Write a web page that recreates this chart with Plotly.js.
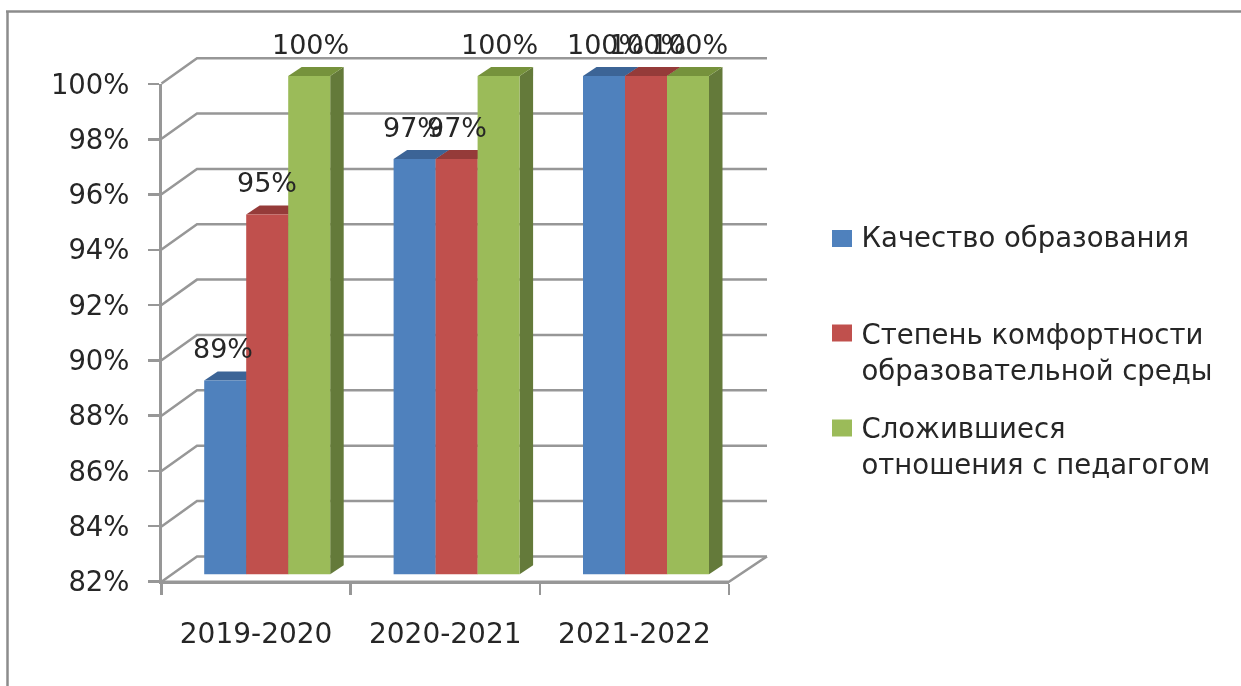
<!DOCTYPE html>
<html>
<head>
<meta charset="utf-8">
<script src="https://cdn.plot.ly/plotly-3.0.1.min.js"></script>
<style>
html,body{margin:0;padding:0;background:#fff;overflow:hidden}
#chart{width:1241px;height:686px;filter:blur(0.45px)}
</style>
</head>
<body>
<div id="chart"></div>
<script>
const categories = ["2019-2020", "2020-2021", "2021-2022"];
const yTicks = [82, 84, 86, 88, 90, 92, 94, 96, 98, 100];
const quality = [89, 97, 100];
const comfort = [95, 97, 100];
const relations = [100, 100, 100];
const seriesNames = [
  "Качество образования",
  "&nbsp;<br>Степень комфортности<br>образовательной среды",
  "&nbsp;<br>Сложившиеся<br>отношения с педагогом"
];
const seriesValues = [quality, comfort, relations];
const frontColors = ["#4F81BD", "#C0504D", "#9BBB59"];
const topColors = ["#3C6496", "#953B39", "#76923C"];
const sideColors = ["#375A87", "#7F2F2D", "#647A3A"];

const W = 1241, H = 686;
const GRAY = "#979797", TEXT = "#262626", FONT = "'DejaVu Sans', sans-serif";
const pxPerGroup = 189.4, pxPerUnit = 27.68;
const bw = 42 / pxPerGroup, dx = 13.5 / pxPerGroup, dy = 9 / pxPerUnit;
const base = 82;
const wallFront = -0.27, wallBack = 0.645;
const backX = (197 - 267.2) / pxPerGroup, frontX = (161.5 - 267.2) / pxPerGroup;
const endFrontX = (729 - 267.2) / pxPerGroup, endBackX = (767 - 267.2) / pxPerGroup;

const shapes = [];
// chart frame
[[6, 11.5, W, 11.5], [7.5, 11.5, 7.5, H]].forEach(p => shapes.push({
  type: "line", xref: "paper", yref: "paper", layer: "below",
  x0: p[0] / W, x1: p[2] / W, y0: 1 - p[1] / H, y1: 1 - p[3] / H,
  line: {color: "#8c8c8c", width: 2.5}
}));
// walls and gridlines
yTicks.forEach(v => {
  shapes.push({type: "path", xref: "x", yref: "y", layer: "below",
    path: `M${frontX},${v + wallFront}L${backX},${v + wallBack}L${endBackX},${v + wallBack}`,
    line: {color: GRAY, width: 2.5}});
});
shapes.push({type: "path", xref: "x", yref: "y", layer: "below",
  path: `M${frontX},${base + wallFront}L${endFrontX},${base + wallFront}L${endBackX},${base + wallBack}`,
  line: {color: GRAY, width: 2.5}});
// 3-D faces of the bars
seriesValues.forEach((vals, s) => {
  vals.forEach((v, g) => {
    const x0 = g + (s - 1.5) * bw, x1 = x0 + bw;
    shapes.push({type: "path", xref: "x", yref: "y", layer: "below",
      path: `M${x1},${base}L${x1 + dx},${base + dy}L${x1 + dx},${v + dy}L${x1},${v}Z`,
      fillcolor: sideColors[s], line: {width: 0}});
    shapes.push({type: "path", xref: "x", yref: "y", layer: "below",
      path: `M${x0},${v}L${x1},${v}L${x1 + dx},${v + dy}L${x0 + dx},${v + dy}Z`,
      fillcolor: topColors[s], line: {width: 0}});
  });
});
// legend swatches sized like the reference
[238.5, 333, 428].forEach((cy, s) => shapes.push({
  type: "rect", xref: "paper", yref: "paper", layer: "below",
  x0: 832 / W, x1: 852 / W, y0: 1 - (cy - 8.5) / H, y1: 1 - (cy + 8.5) / H,
  fillcolor: frontColors[s], line: {width: 0}
}));

const traces = seriesValues.map((vals, s) => ({
  type: "bar", name: seriesNames[s], x: categories, y: vals.map(v => v - base),
  xaxis: "x", yaxis: "y", base: base,
  marker: {color: frontColors[s]},
  legend: s === 0 ? "legend" : "legend" + (s + 1),
  hoverinfo: "skip"
}));
traces.push({type: "scatter", mode: "none", x: [], y: [], xaxis: "x2", yaxis: "y2", showlegend: false, hoverinfo: "skip"});

const labelShift = [-2, 0, 1];
const annotations = [];
seriesValues.forEach((vals, s) => vals.forEach((v, g) => annotations.push({
  xref: "x", yref: "y", x: g + (s - 1) * bw, y: v, yshift: 32, xshift: v === 100 ? 1 : labelShift[s],
  text: v + "%", showarrow: false, xanchor: "center", yanchor: "middle",
  font: {family: FONT, size: 27, color: TEXT}
})));

function legendAt(px, py) {
  return {x: px / W, y: 1 - py / H, xanchor: "left", yanchor: "top", bgcolor: "rgba(0,0,0,0)",
    borderwidth: 0, font: {family: FONT, size: 27.5, color: TEXT}, itemclick: false, itemdoubleclick: false};
}

const layout = {
  width: W, height: H, margin: {l: 0, r: 0, t: 0, b: 0},
  paper_bgcolor: "#fff", plot_bgcolor: "rgba(0,0,0,0)",
  barmode: "group", bargap: 1 - 3 * bw, bargroupgap: 0,
  xaxis: {domain: [155 / W, 770 / W], range: [(155 - 267.2) / pxPerGroup, (770 - 267.2) / pxPerGroup],
    type: "category", visible: false, anchor: "y", fixedrange: true},
  yaxis: {domain: [1 - 585 / H, 1 - 55 / H], range: [base - (585 - 574.3) / pxPerUnit, 100 + (76 - 55) / pxPerUnit],
    visible: false, anchor: "x", fixedrange: true},
  xaxis2: {domain: [161.5 / W, 729 / W], range: [0, 3], anchor: "y2", type: "linear",
    tickmode: "array", tickvals: [0.5, 1.5, 2.5], ticktext: categories, ticks: "", ticklabelstandoff: 25,
    minor: {tickmode: "array", tickvals: [0, 1, 2, 3], ticks: "outside", ticklen: 11, tickwidth: 2.5, tickcolor: GRAY},
    showline: true, linecolor: GRAY, linewidth: 2.5, showgrid: false, zeroline: false, fixedrange: true,
    tickfont: {family: FONT, size: 28, color: TEXT}},
  yaxis2: {domain: [1 - 581.5 / H, 1 - 84 / H], range: [82, 100], anchor: "x2", type: "linear",
    tickmode: "array", tickvals: yTicks, ticktext: yTicks.map(v => v + "%"), ticks: "outside", ticklen: 11,
    tickwidth: 2.5, tickcolor: GRAY, ticklabelstandoff: 13,
    showline: true, linecolor: GRAY, linewidth: 2.5, showgrid: false, zeroline: false, fixedrange: true,
    tickfont: {family: FONT, size: 27.5, color: TEXT}},
  showlegend: true,
  legend: legendAt(821.5, 212),
  legend2: legendAt(821.5, 273.5),
  legend3: legendAt(821.5, 367),
  shapes: shapes,
  annotations: annotations
};
Plotly.newPlot("chart", traces, layout, {displayModeBar: false, staticPlot: true});
</script>
</body>
</html>
